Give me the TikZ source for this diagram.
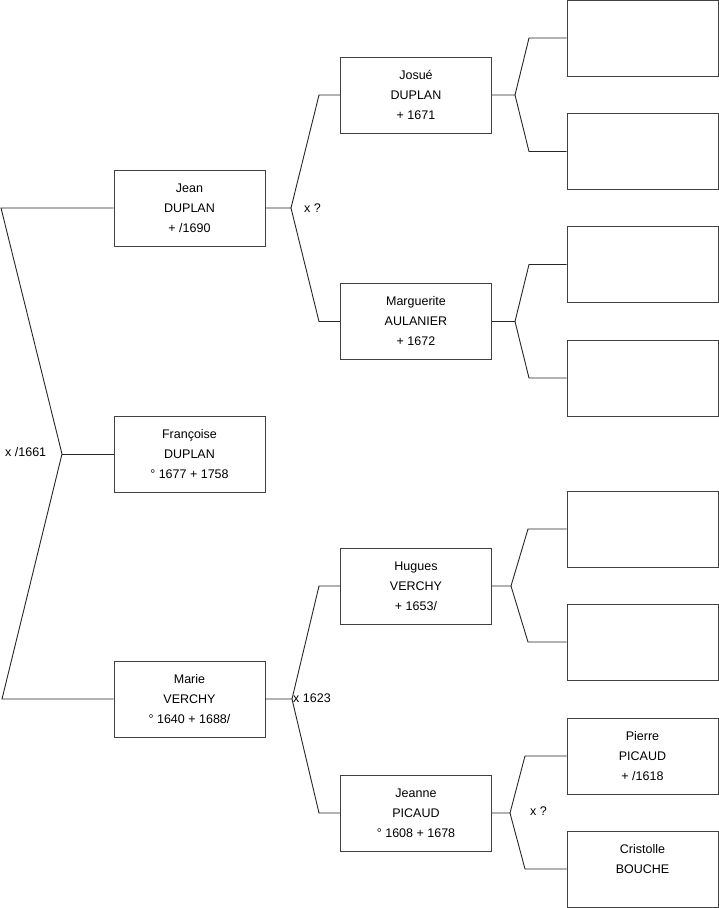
\documentclass[tikz,border=0pt]{standalone}
\usepackage{fontspec}
\setmainfont{Liberation Sans}
\begin{document}
\begin{tikzpicture}[x=1pt,y=-1pt,
  box/.style={draw=black!75, line width=1pt, minimum width=151pt, minimum height=76pt,
    inner sep=0pt, align=center, font=\fontsize{12.5}{20}\selectfont},
  conn/.style={draw=black!85, line width=0.9pt},
  lbl/.style={anchor=west, inner sep=0pt, font=\fontsize{12.5}{15}\selectfont}]
\useasboundingbox (0,0) rectangle (719,908);
% generation 1
\node[box] (jean) at (189.5,208) {Jean\\DUPLAN\\+ /1690};
\node[box] (fran) at (189.5,454) {Françoise\\DUPLAN\\° 1677 + 1758};
\node[box] (marie) at (189.5,699) {Marie\\VERCHY\\° 1640 + 1688/};
% generation 2
\node[box] (josue) at (416,95) {Josué\\DUPLAN\\+ 1671};
\node[box] (marg) at (416,321.5) {Marguerite\\AULANIER\\+ 1672};
\node[box] (hugues) at (416,586) {Hugues\\VERCHY\\+ 1653/};
\node[box] (jeanne) at (416,813) {Jeanne\\PICAUD\\° 1608 + 1678};
% generation 3
\node[box] (g1) at (642.5,38) {};
\node[box] (g2) at (642.5,151.5) {};
\node[box] (g3) at (642.5,264.5) {};
\node[box] (g4) at (642.5,378) {};
\node[box] (g5) at (642.5,529) {};
\node[box] (g6) at (642.5,642) {};
\node[box] (pierre) at (642.5,756) {Pierre\\PICAUD\\+ /1618};
\node[box] (cris) at (642.5,869) {Cristolle\\BOUCHE\\~};
% root fork
\coordinate (r0) at (62,454);
\coordinate (rt) at (1,208);
\coordinate (rb) at (2,699);
\draw[conn] (jean.west) -- (rt) -- (r0) -- (rb) -- (marie.west);
\draw[conn] (r0) -- (fran.west);
\node[lbl] (l0) at (5,452) {x /1661};
% Jean fork
\coordinate (fj) at (291,208);
\coordinate (fjt) at (319,95);
\coordinate (fjb) at (319,321.5);
\draw[conn] (jean.east) -- (fj) -- (fjt) -- (josue.west);
\draw[conn] (fj) -- (fjb) -- (marg.west);
\node[lbl] (lj) at (304,208) {x ?};
% Marie fork
\coordinate (fm) at (292,699);
\coordinate (fmt) at (319,586);
\coordinate (fmb) at (319,813);
\draw[conn] (marie.east) -- (fm) -- (fmt) -- (hugues.west);
\draw[conn] (fm) -- (fmb) -- (jeanne.west);
\node[lbl] (lm) at (293,698) {x 1623};
% Josue fork
\coordinate (fa) at (515,95);
\coordinate (fat) at (529,38);
\coordinate (fab) at (529,151.5);
\draw[conn] (josue.east) -- (fa) -- (fat) -- (g1.west);
\draw[conn] (fa) -- (fab) -- (g2.west);
% Marguerite fork
\coordinate (fb) at (515,321.5);
\coordinate (fbt) at (529,264.5);
\coordinate (fbb) at (529,378);
\draw[conn] (marg.east) -- (fb) -- (fbt) -- (g3.west);
\draw[conn] (fb) -- (fbb) -- (g4.west);
% Hugues fork
\coordinate (fc) at (511,586);
\coordinate (fct) at (528,529);
\coordinate (fcb) at (528,642);
\draw[conn] (hugues.east) -- (fc) -- (fct) -- (g5.west);
\draw[conn] (fc) -- (fcb) -- (g6.west);
% Jeanne fork
\coordinate (fd) at (510,813);
\coordinate (fdt) at (525,756);
\coordinate (fdb) at (525,869);
\draw[conn] (jeanne.east) -- (fd) -- (fdt) -- (pierre.west);
\draw[conn] (fd) -- (fdb) -- (cris.west);
\node[lbl] (ld) at (530,811) {x ?};
\end{tikzpicture}
\end{document}
